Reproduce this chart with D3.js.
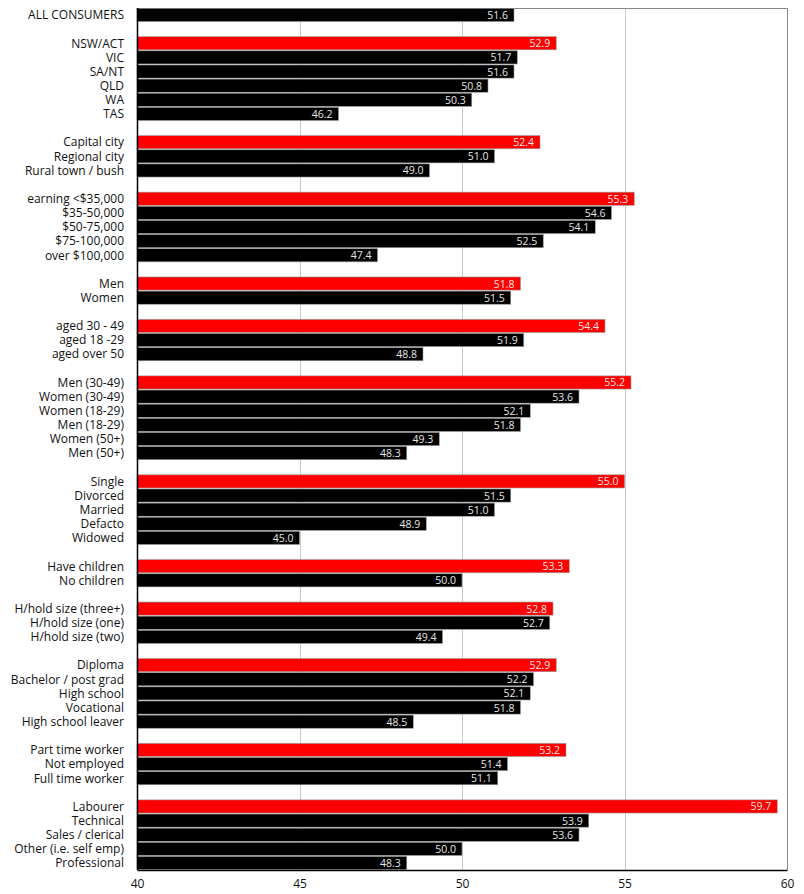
<!DOCTYPE html>
<html>
<head>
<meta charset="utf-8">
<script src="https://cdn.jsdelivr.net/npm/d3@7"></script>
<style>
  html, body { margin: 0; padding: 0; background: #fff; }
  svg { display: block; font-family: "Open Sans", "Noto Sans", sans-serif; }
</style>
</head>
<body>
<div id="chart"></div>
<script>
// Groups of rows, top to bottom; the first row of every group (except the overall) is red
const groupLabels = [
  ['ALL CONSUMERS'],
  ['NSW/ACT', 'VIC', 'SA/NT', 'QLD', 'WA', 'TAS'],
  ['Capital city', 'Regional city', 'Rural town / bush'],
  ['earning <$35,000', '$35-50,000', '$50-75,000', '$75-100,000', 'over $100,000'],
  ['Men', 'Women'],
  ['aged 30 - 49', 'aged 18 -29', 'aged over 50'],
  ['Men (30-49)', 'Women (30-49)', 'Women (18-29)', 'Men (18-29)', 'Women (50+)', 'Men (50+)'],
  ['Single', 'Divorced', 'Married', 'Defacto', 'Widowed'],
  ['Have children', 'No children'],
  ['H/hold size (three+)', 'H/hold size (one)', 'H/hold size (two)'],
  ['Diploma', 'Bachelor / post grad', 'High school', 'Vocational', 'High school leaver'],
  ['Part time worker', 'Not employed', 'Full time worker'],
  ['Labourer', 'Technical', 'Sales / clerical', 'Other (i.e. self emp)', 'Professional']
];
const groupValues = [
  [51.6],
  [52.9, 51.7, 51.6, 50.8, 50.3, 46.2],
  [52.4, 51.0, 49.0],
  [55.3, 54.6, 54.1, 52.5, 47.4],
  [51.8, 51.5],
  [54.4, 51.9, 48.8],
  [55.2, 53.6, 52.1, 51.8, 49.3, 48.3],
  [55.0, 51.5, 51.0, 48.9, 45.0],
  [53.3, 50.0],
  [52.8, 52.7, 49.4],
  [52.9, 52.2, 52.1, 51.8, 48.5],
  [53.2, 51.4, 51.1],
  [59.7, 53.9, 53.6, 50.0, 48.3]
];
const xTicks = [40, 45, 50, 55, 60];

// Flatten into slots, with an empty slot between groups
const rows = [];
groupLabels.forEach((labels, gi) => {
  if (gi > 0) rows.push({ key: 'gap' + gi, blank: true });
  labels.forEach((lab, i) => {
    rows.push({ key: 'r' + gi + '_' + i, label: lab, value: groupValues[gi][i], lead: gi > 0 && i === 0 });
  });
});

const W = 804, H = 894;
const margin = { top: 8, right: 17, bottom: 24, left: 137 };

const svg = d3.select('#chart').append('svg')
  .attr('width', W).attr('height', H);

const x = d3.scaleLinear().domain([40, 60]).range([margin.left, W - margin.right]);
const y = d3.scaleBand()
  .domain(rows.map(r => r.key))
  .range([margin.top, H - margin.bottom])
  .paddingInner(0.07).paddingOuter(0.03);

// Gridlines
svg.append('g').selectAll('line')
  .data(xTicks.slice(1, -1))
  .join('line')
  .attr('x1', d => Math.round(x(d)) + .5).attr('x2', d => Math.round(x(d)) + .5)
  .attr('y1', margin.top).attr('y2', H - margin.bottom)
  .attr('stroke', '#c8c8c8');

// Frame: top + right gray
svg.append('path')
  .attr('d', `M${margin.left},${margin.top + .5}H${Math.round(x(60)) + .5}V${H - margin.bottom}`)
  .attr('fill', 'none').attr('stroke', '#888');

const bars = rows.filter(r => !r.blank);

svg.append('g').selectAll('rect')
  .data(bars)
  .join('rect')
  .attr('x', x(40))
  .attr('y', d => y(d.key))
  .attr('width', d => x(d.value) - x(40))
  .attr('height', y.bandwidth())
  .attr('fill', d => d.lead ? '#ff0000' : '#000')
  .attr('stroke', '#9a9a9a')
  .attr('stroke-width', .6);

// Value labels inside bar ends
svg.append('g').selectAll('text')
  .data(bars)
  .join('text')
  .attr('x', d => x(d.value) - 6)
  .attr('y', d => y(d.key) + y.bandwidth() / 2 + 4)
  .attr('text-anchor', 'end')
  .attr('font-size', 10.5)
  .attr('fill', '#e6e6e6')
  .text(d => d.value.toFixed(1));

// Row labels
svg.append('g').selectAll('text')
  .data(bars)
  .join('text')
  .attr('x', margin.left - 13)
  .attr('y', d => y(d.key) + y.bandwidth() / 2 + 4.3)
  .attr('text-anchor', 'end')
  .attr('font-size', 12)
  .attr('fill', '#111')
  .text(d => d.label);

// Axes lines
svg.append('line')
  .attr('x1', margin.left + .5).attr('x2', margin.left + .5)
  .attr('y1', margin.top).attr('y2', H - margin.bottom)
  .attr('stroke', '#000').attr('stroke-width', 1.5);

const xAxis = svg.append('g')
  .attr('transform', `translate(0,${H - margin.bottom})`)
  .call(d3.axisBottom(x).tickValues(xTicks).tickSize(0).tickPadding(9));
xAxis.select('.domain').attr('stroke', '#000').attr('stroke-width', 1.5);
xAxis.selectAll('text')
  .attr('font-family', '"Open Sans", "Noto Sans", sans-serif')
  .attr('font-size', 12).attr('fill', '#111');
</script>
</body>
</html>
